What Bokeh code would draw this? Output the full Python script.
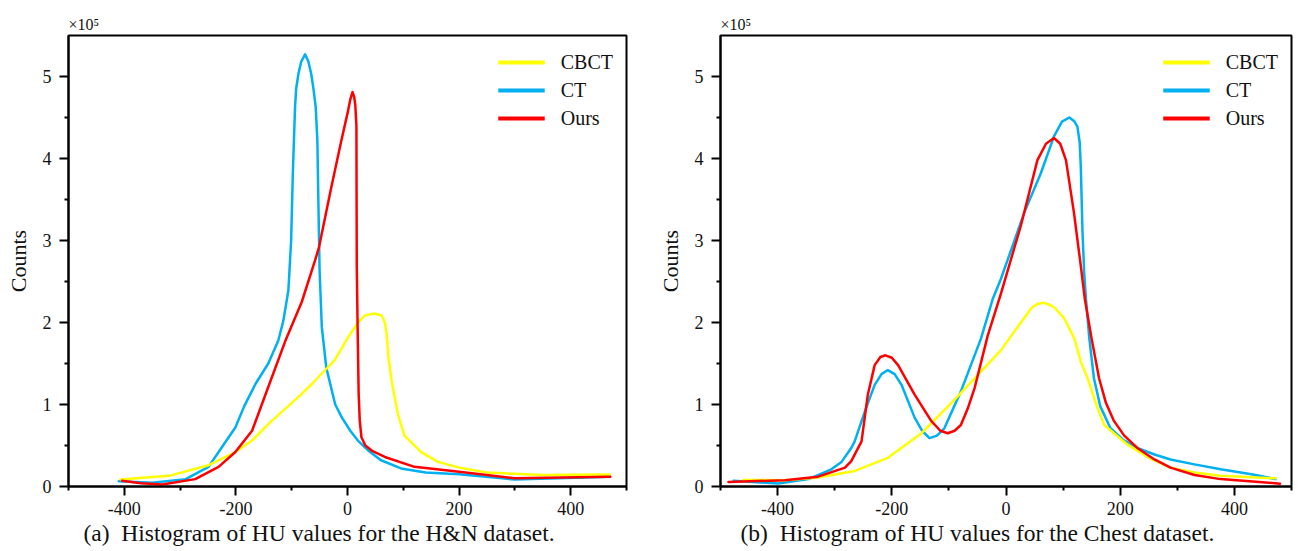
from bokeh.plotting import figure
from bokeh.layouts import row
from bokeh.models import Legend, LegendItem, Title, FixedTicker, Range1d
from bokeh.embed import file_html
from bokeh.resources import INLINE

FONT = "Liberation Serif"
SERIES = ["CBCT", "CT", "Ours"]
COLORS = {"CBCT": "#FFFF00", "CT": "#00B0F0", "Ours": "#FF0000"}

X_TICKS = [-400, -200, 0, 200, 400]
X_TICK_LABELS = ["-400", "-200", "0", "200", "400"]
Y_TICKS = [0, 1, 2, 3, 4, 5]
Y_TICK_LABELS = ["0", "1", "2", "3", "4", "5"]

# (a) H&N dataset, counts in units of 1e5
HN_CBCT_X = [-407, -320, -249, -201, -171, -142, -82, -64, -23, 1, 19, 31, 48, 61, 67, 70, 74, 79, 90, 102, 132, 162, 200, 250, 350, 470]
HN_CBCT_Y = [0.085, 0.13, 0.26, 0.42, 0.56, 0.76, 1.13, 1.25, 1.54, 1.82, 2.0, 2.085, 2.11, 2.085, 2.0, 1.86, 1.54, 1.29, 0.89, 0.62, 0.42, 0.3, 0.23, 0.17, 0.14, 0.145]

HN_CT_X = [-410, -350, -290, -249, -201, -185, -165, -142, -124, -115, -106, -104, -101, -98, -94, -92, -88, -83, -76, -70, -65, -61, -57, -54, -52, -50, -46, -38, -22, -10, 5, 20, 37, 60, 96, 140, 200, 300, 470]
HN_CT_Y = [0.065, 0.045, 0.09, 0.24, 0.72, 0.98, 1.25, 1.5, 1.78, 2.02, 2.39, 2.63, 3.0, 3.81, 4.63, 4.85, 5.03, 5.18, 5.27, 5.18, 5.03, 4.85, 4.63, 4.22, 3.4, 2.63, 1.94, 1.45, 1.0, 0.84, 0.68, 0.55, 0.44, 0.32, 0.22, 0.17, 0.15, 0.085, 0.12]

HN_OURS_X = [-404, -370, -332, -273, -231, -201, -171, -140, -110, -82, -58, -51, -29, -11, 0, 5, 9, 12, 14, 16, 16.3, 16.6, 18, 20, 22, 25, 32, 45, 67, 120, 200, 300, 471]
HN_OURS_Y = [0.07, 0.04, 0.025, 0.09, 0.24, 0.42, 0.68, 1.25, 1.8, 2.25, 2.76, 2.92, 3.65, 4.22, 4.55, 4.72, 4.81, 4.75, 4.65, 4.4, 3.5, 2.7, 2.0, 1.13, 0.8, 0.6, 0.5, 0.43, 0.36, 0.24, 0.18, 0.1, 0.12]

# (b) Chest dataset, counts in units of 1e5
CH_CBCT_X = [-460, -387, -329, -265, -207, -148, -90, -44, -9, 26, 45, 56, 67, 78, 85, 102, 120, 131, 143, 158, 172, 213, 250, 288, 330, 376, 472]
CH_CBCT_Y = [0.08, 0.077, 0.11, 0.19, 0.35, 0.65, 1.06, 1.4, 1.66, 2.0, 2.18, 2.23, 2.24, 2.21, 2.18, 2.05, 1.8, 1.52, 1.32, 1.0, 0.75, 0.51, 0.35, 0.23, 0.17, 0.13, 0.1]

CH_CT_X = [-477, -399, -346, -306, -288, -271, -265, -247, -230, -218, -207, -195, -183, -160, -147, -134, -121, -108, -79, -44, -23, -9, 32, 61, 84, 98, 111, 120, 125, 129, 131, 134, 137, 140, 146, 154, 165, 183, 205, 230, 260, 288, 330, 376, 430, 472]
CH_CT_Y = [0.07, 0.036, 0.09, 0.21, 0.3, 0.47, 0.55, 0.92, 1.24, 1.37, 1.42, 1.37, 1.24, 0.84, 0.68, 0.59, 0.62, 0.71, 1.16, 1.8, 2.29, 2.53, 3.34, 3.82, 4.27, 4.45, 4.5, 4.45, 4.39, 4.2, 3.9, 3.1, 2.6, 2.29, 1.8, 1.32, 0.98, 0.71, 0.57, 0.47, 0.39, 0.33, 0.27, 0.21, 0.15, 0.09]

CH_OURS_X = [-486, -387, -329, -282, -271, -253, -242, -230, -220, -211, -200, -189, -160, -131, -115, -102, -90, -79, -67, -55, -32, -9, 26, 55, 70, 84, 95, 105, 119, 131, 138, 150, 163, 175, 189, 207, 230, 260, 288, 330, 376, 480]
CH_OURS_Y = [0.056, 0.077, 0.12, 0.23, 0.31, 0.55, 1.12, 1.48, 1.58, 1.6, 1.57, 1.48, 1.12, 0.8, 0.68, 0.65, 0.68, 0.75, 0.95, 1.2, 1.84, 2.35, 3.18, 3.98, 4.18, 4.25, 4.18, 3.98, 3.34, 2.69, 2.29, 1.8, 1.32, 1.02, 0.8, 0.62, 0.47, 0.33, 0.23, 0.14, 0.09, 0.035]

CAPTIONS = ["(a)\u00a0 Histogram of HU values for the H&N dataset.",
            "(b)\u00a0 Histogram of HU values for the Chest dataset."]
Y_LABEL = "Counts"
Y_SCALE_TEXT = "\u00d710\u2075"


def make_panel(data, caption, width, bl, br, bb, cap_offset):
    p = figure(width=width, height=550, x_range=Range1d(-500, 500), y_range=Range1d(0, 5.5),
               output_backend="svg", toolbar_location=None,
               min_border_left=bl, min_border_right=br, min_border_top=35, min_border_bottom=bb)
    p.grid.visible = False
    p.outline_line_color = "black"
    p.outline_line_width = 2
    p.background_fill_color = "white"
    p.border_fill_color = "white"

    for name in ["CT", "CBCT", "Ours"]:
        xs, ys = data[name]
        p.line(xs, ys, line_color=COLORS[name], line_width=2.5, line_join="round", line_cap="round")

    # legend samples (thicker strokes, as in the reference legend); a single NaN point draws nothing
    proxies = {n: p.line(x=[float("nan")], y=[float("nan")], line_color=COLORS[n], line_width=4)
               for n in SERIES}

    p.xaxis.ticker = FixedTicker(ticks=X_TICKS, minor_ticks=[-500, -300, -100, 100, 300, 500])
    p.yaxis.ticker = FixedTicker(ticks=Y_TICKS, minor_ticks=[0.5, 1.5, 2.5, 3.5, 4.5])
    p.xaxis.major_label_overrides = dict(zip(X_TICKS, X_TICK_LABELS))
    p.yaxis.major_label_overrides = dict(zip(Y_TICKS, Y_TICK_LABELS))
    for ax in (p.xaxis[0], p.yaxis[0]):
        ax.axis_line_width = 2
        ax.axis_line_color = "black"
        ax.major_tick_line_width = 2
        ax.minor_tick_line_width = 2
        ax.major_tick_line_color = "black"
        ax.minor_tick_line_color = "black"
        ax.major_tick_out = 9
        ax.major_tick_in = 0
        ax.minor_tick_out = 4
        ax.minor_tick_in = 0
        ax.major_label_text_font = FONT
        ax.major_label_text_font_size = "18px"
        ax.major_label_text_color = "#111111"
    p.xaxis.major_label_standoff = 6
    p.yaxis.major_label_standoff = 8
    p.yaxis.axis_label = Y_LABEL
    p.yaxis.axis_label_text_font = FONT
    p.yaxis.axis_label_text_font_size = "22px"
    p.yaxis.axis_label_text_font_style = "normal"
    p.yaxis.axis_label_text_color = "#111111"
    p.yaxis.axis_label_standoff = 9

    legend = Legend(items=[LegendItem(label=n, renderers=[proxies[n]]) for n in SERIES],
                    location="top_right", border_line_alpha=0, background_fill_alpha=0,
                    label_text_font=FONT, label_text_font_size="20px", label_text_color="#111111",
                    glyph_width=47, glyph_height=28, label_height=28, label_standoff=16,
                    spacing=0, padding=8, margin=5)
    p.add_layout(legend)

    p.add_layout(Title(text=Y_SCALE_TEXT, align="left", offset=0, standoff=5,
                       text_font=FONT, text_font_size="16px", text_font_style="normal",
                       text_color="#111111"), "above")
    p.add_layout(Title(text=caption, align="left", offset=cap_offset, standoff=0,
                       text_font=FONT, text_font_size="23.5px", text_font_style="normal",
                       text_color="#111111"), "below")
    return p


p1 = make_panel({"CBCT": (HN_CBCT_X, HN_CBCT_Y), "CT": (HN_CT_X, HN_CT_Y), "Ours": (HN_OURS_X, HN_OURS_Y)},
                CAPTIONS[0], 648, 68, 22, 64, 15)
p2 = make_panel({"CBCT": (CH_CBCT_X, CH_CBCT_Y), "CT": (CH_CT_X, CH_CT_Y), "Ours": (CH_OURS_X, CH_OURS_Y)},
                CAPTIONS[1], 650, 72, 7, 61, 20)

layout = row(p1, p2)
open("out.html", "w").write(file_html(layout, INLINE))
